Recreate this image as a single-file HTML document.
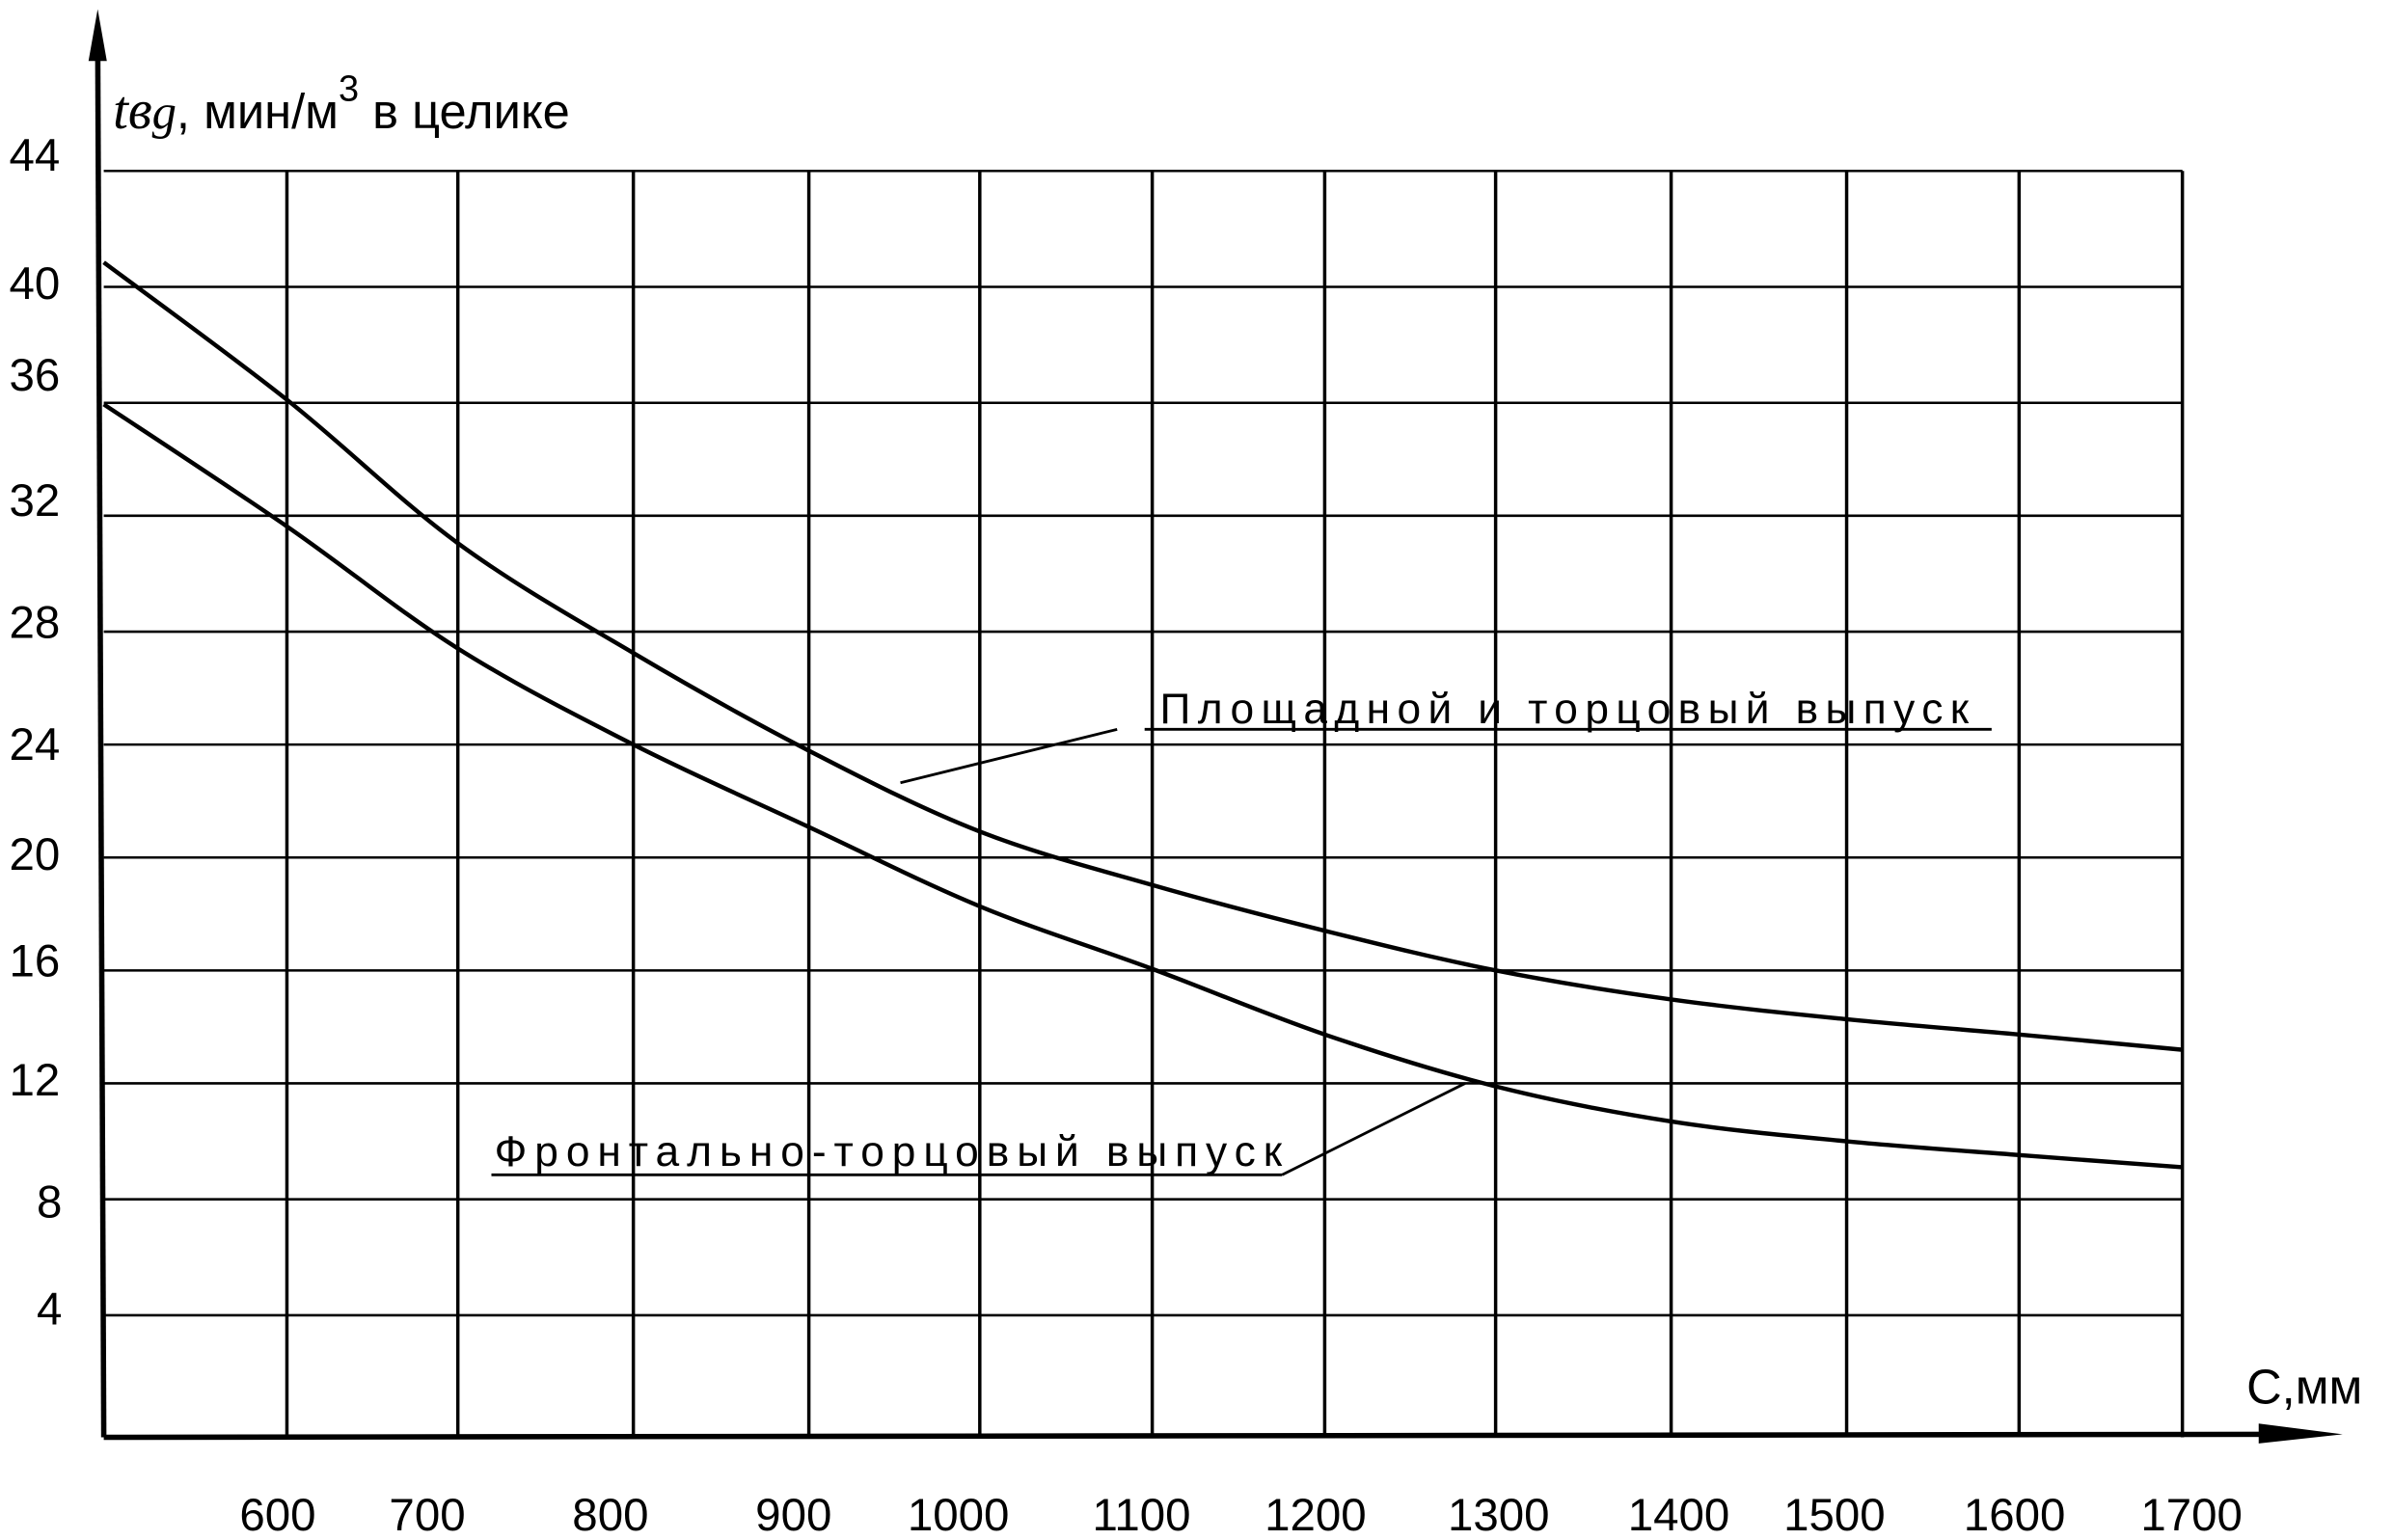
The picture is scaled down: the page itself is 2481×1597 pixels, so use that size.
<!DOCTYPE html>
<html><head><meta charset="utf-8"><style>html,body{margin:0;padding:0;background:#fff}svg{display:block}</style></head>
<body>
<svg width="2481" height="1597" viewBox="0 0 1568 1009.3" preserveAspectRatio="none" xmlns="http://www.w3.org/2000/svg" font-family="Liberation Sans, sans-serif">
<g stroke="#000" stroke-width="1.6" fill="none">
<line x1="68" y1="112" x2="1430" y2="112"/>
<line x1="68" y1="188" x2="1430" y2="188"/>
<line x1="68" y1="264" x2="1430" y2="264"/>
<line x1="68" y1="338" x2="1430" y2="338"/>
<line x1="68" y1="414" x2="1430" y2="414"/>
<line x1="68" y1="488" x2="1430" y2="488"/>
<line x1="68" y1="562" x2="1430" y2="562"/>
<line x1="68" y1="636" x2="1430" y2="636"/>
<line x1="68" y1="710" x2="1430" y2="710"/>
<line x1="68" y1="786" x2="1430" y2="786"/>
<line x1="68" y1="862" x2="1430" y2="862"/>
</g>
<g stroke="#000" stroke-width="2.2" fill="none">
<line x1="188" y1="112" x2="188" y2="942"/>
<line x1="300" y1="112" x2="300" y2="942"/>
<line x1="415" y1="112" x2="415" y2="942"/>
<line x1="530" y1="112" x2="530" y2="942"/>
<line x1="642" y1="112" x2="642" y2="942"/>
<line x1="755" y1="112" x2="755" y2="942"/>
<line x1="868" y1="112" x2="868" y2="942"/>
<line x1="980" y1="112" x2="980" y2="942"/>
<line x1="1095" y1="112" x2="1095" y2="942"/>
<line x1="1210" y1="112" x2="1210" y2="942"/>
<line x1="1323" y1="112" x2="1323" y2="942"/>
<line x1="1430" y1="112" x2="1430" y2="942"/>
</g>
<g stroke="#000" stroke-width="3.5" fill="none">
<line x1="68" y1="942" x2="1500" y2="940"/>
<line x1="68" y1="942" x2="64" y2="20"/>
</g>
<polygon points="1480,933 1535,940 1480,946" fill="#000"/>
<polygon points="58,40 64,6 70,40" fill="#000"/>
<g stroke="#000" stroke-width="2.8" fill="none">
<path id="up" d=""/>
<path id="lo" d=""/>
</g>
<g stroke="#000" stroke-width="1.8" fill="none">
<line x1="750" y1="478" x2="1305" y2="478"/>
<line x1="732" y1="478" x2="590" y2="513"/>
<line x1="322" y1="770" x2="840" y2="770"/>
<line x1="840" y1="770" x2="960" y2="710"/>
</g>
<g font-size="30" fill="#000">
<text x="6" y="112">44</text>
<text x="6" y="196">40</text>
<text x="6" y="256">36</text>
<text x="6" y="338">32</text>
<text x="6" y="418">28</text>
<text x="6" y="498">24</text>
<text x="6" y="570">20</text>
<text x="6" y="640">16</text>
<text x="6" y="718">12</text>
<text x="24" y="798">8</text>
<text x="24" y="868">4</text>
</g>
<g font-size="30" fill="#000" text-anchor="middle">
<text x="182" y="1003">600</text>
<text x="280" y="1003">700</text>
<text x="400" y="1003">800</text>
<text x="520" y="1003">900</text>
<text x="628" y="1003">1000</text>
<text x="748" y="1003">1100</text>
<text x="862" y="1003">1200</text>
<text x="982" y="1003">1300</text>
<text x="1100" y="1003">1400</text>
<text x="1202" y="1003">1500</text>
<text x="1320" y="1003">1600</text>
<text x="1436" y="1003">1700</text>
</g>
<text x="74" y="84" font-size="36" font-family="Liberation Serif, serif" font-style="italic">tв<tspan font-size="32">g</tspan><tspan font-style="normal" font-family="Liberation Sans, sans-serif" font-size="32">, мин/м</tspan><tspan font-style="normal" font-family="Liberation Sans, sans-serif" font-size="24" dy="-18">3</tspan><tspan font-style="normal" font-family="Liberation Sans, sans-serif" font-size="32" dy="18"> в целике</tspan></text>
<text x="1472" y="920" font-size="32">С,мм</text>
<text x="760" y="474" font-size="28" textLength="530">Площадной и торцовый выпуск</text>
<text x="324" y="764" font-size="28" textLength="516">Фронтально-торцовый выпуск</text>
</svg>
<script>
function cr(p){var d="M"+p[0][0]+","+p[0][1];for(var i=0;i<p.length-1;i++){var a=p[i-1]||p[i],b=p[i],c=p[i+1],e=p[i+2]||c;d+=" C"+(b[0]+(c[0]-a[0])/6)+","+(b[1]+(c[1]-a[1])/6)+" "+(c[0]-(e[0]-b[0])/6)+","+(c[1]-(e[1]-b[1])/6)+" "+c[0]+","+c[1];}return d;}
document.getElementById("up").setAttribute("d",cr([[68,172],[188,262],[300,356],[415,428],[530,492],[642,545],[755,580],[868,610],[980,636],[1095,655],[1210,668],[1323,678],[1430,688]]));
document.getElementById("lo").setAttribute("d",cr([[68,265],[188,345],[300,425],[415,488],[530,542],[642,594],[755,635],[868,678],[980,712],[1095,735],[1210,748],[1323,757],[1430,765]]));
</script>
</body></html>
